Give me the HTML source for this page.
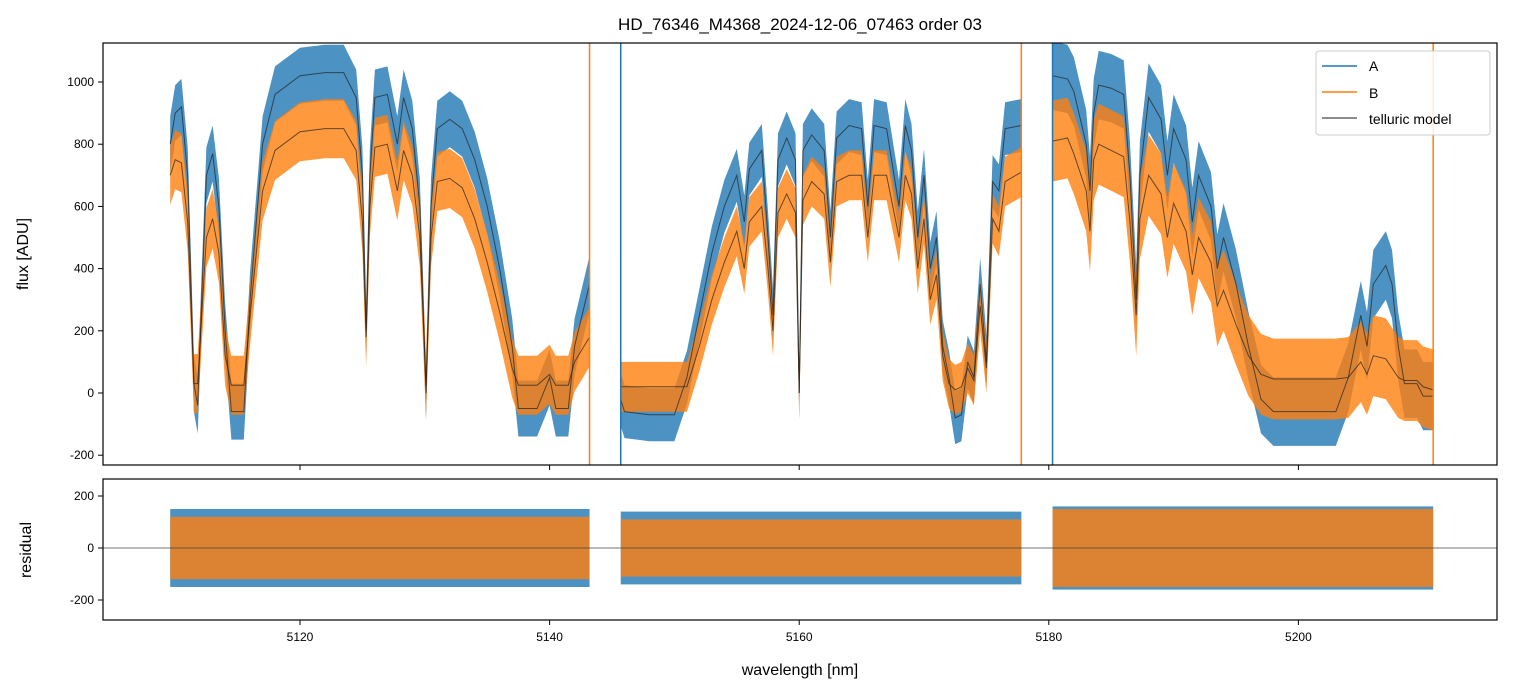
<!DOCTYPE html>
<html><head><meta charset="utf-8"><style>
body{margin:0;background:#fff;}
svg{display:block;font-family:"Liberation Sans","DejaVu Sans",sans-serif;}
</style></head><body>
<svg id="chart" width="1513" height="696" viewBox="0 0 1513 696">
<defs>
<clipPath id="cm"><rect x="103" y="43" width="1394" height="422"/></clipPath>
<clipPath id="cr"><rect x="103" y="479" width="1394" height="141"/></clipPath>
</defs>
<text x="800" y="30" text-anchor="middle" font-size="17">HD_76346_M4368_2024-12-06_07463  order 03</text>
<g id="main" clip-path="url(#cm)"></g>
<g id="resid" clip-path="url(#cr)"></g>
<g id="axes"></g>
<text x="800" y="675" text-anchor="middle" font-size="16">wavelength [nm]</text>
<text transform="translate(28,254) rotate(-90)" text-anchor="middle" font-size="16">flux [ADU]</text>
<text transform="translate(31,550) rotate(-90)" text-anchor="middle" font-size="16">residual</text>
<g>
<rect x="1316" y="51" width="174" height="84" rx="3" fill="#fff" fill-opacity="0.85" stroke="#ccc"/>
<line x1="1322" y1="66" x2="1357" y2="66" stroke="#1f77b4" stroke-width="1.5"/>
<text x="1369" y="71" font-size="14">A</text>
<line x1="1322" y1="92" x2="1357" y2="92" stroke="#ff7f0e" stroke-width="1.5"/>
<text x="1369" y="98" font-size="14">B</text>
<line x1="1322" y1="118" x2="1357" y2="118" stroke="#666" stroke-width="1.5"/>
<text x="1369" y="124" font-size="14">telluric model</text>
</g>
</svg>
<script>
const seg1W=[5109.6,5110,5110.5,5111,5111.5,5111.8,5112.5,5113,5113.5,5114,5114.5,5115.5,5116,5117,5118,5120,5122,5123.5,5124.5,5125,5125.3,5125.6,5126,5127,5127.8,5128.3,5129,5129.6,5130.1,5130.5,5131,5132,5133,5134,5135,5136,5137,5137.5,5139,5140,5140.5,5141.5,5142,5143.2];
const seg1A=[800,900,920,700,30,-40,700,770,600,200,-60,-60,300,800,960,1020,1030,1030,950,700,200,700,950,960,800,950,850,600,0,600,850,880,850,750,600,400,150,-50,-50,50,-50,-50,150,350];
const seg1B=[700,750,740,550,30,30,500,560,450,120,25,25,250,650,780,840,850,850,780,550,180,600,790,800,650,780,700,500,20,500,680,690,660,560,420,260,80,25,25,60,25,25,100,180];
const seg2W=[5145.7,5146,5148,5150,5151,5152,5153,5154,5155,5155.6,5156,5157,5157.5,5157.9,5158.3,5159,5159.7,5160,5160.3,5161,5162,5162.5,5163,5164,5165,5165.5,5166,5167,5168,5168.5,5169,5169.5,5170,5170.5,5171,5171.5,5172,5172.5,5173,5173.5,5174,5174.5,5175,5175.5,5176,5176.5,5177.8];
const seg2A=[-20,-60,-70,-70,50,250,450,600,700,550,720,780,500,250,750,820,750,0,780,830,780,500,820,860,850,600,860,850,600,860,780,500,700,400,500,150,50,-80,-70,100,50,350,100,680,650,850,860];
const seg2B=[20,20,20,20,20,150,300,420,520,400,550,600,400,200,580,640,580,0,620,680,640,420,680,700,700,500,700,700,500,700,640,400,560,300,380,120,30,10,20,80,40,280,80,560,520,680,710];
const seg3W=[5180.3,5181.5,5182,5183,5183.3,5183.6,5184,5185,5186,5186.5,5187,5187.3,5188,5189,5189.5,5190,5191,5191.5,5192,5193,5193.5,5194,5195,5196,5197,5198,5203,5204,5205,5205.5,5206,5207,5207.5,5208,5208.5,5209.5,5210,5210.8];
const seg3A=[1020,1010,970,800,650,900,990,980,960,700,300,700,950,880,700,850,750,550,700,600,400,500,350,150,-20,-60,-60,50,250,150,350,410,350,150,30,30,-10,-10];
const seg3B=[810,820,770,650,520,750,800,780,760,550,250,560,700,640,500,610,520,380,500,420,280,330,220,120,60,45,45,50,100,60,120,110,80,50,40,40,20,10];
const noiseA=[90,85,110];
const noiseB=[95,80,130];
const residA=[150,140,160];
const residB=[120,110,150];
const spikeW=[5143.2,5145.7,5177.8,5180.3,5210.8];

const xS=w=>300+(w-5120)*12.48;
const yM=v=>393-v*0.311;
const yR=v=>548-v*0.26;
const NS='http://www.w3.org/2000/svg';
function mk(tag,attrs,parent){const e=document.createElementNS(NS,tag);for(const k in attrs)e.setAttribute(k,attrs[k]);parent.appendChild(e);return e;}
const main=document.getElementById('main'),resid=document.getElementById('resid'),axes=document.getElementById('axes');
const segs=[[seg1W,seg1A,seg1B],[seg2W,seg2A,seg2B],[seg3W,seg3A,seg3B]];
function band(W,M,amp,yf){let up=W.map((w,i)=>xS(w).toFixed(1)+','+yf(M[i]+amp).toFixed(1));let lo=W.map((w,i)=>xS(w).toFixed(1)+','+yf(M[i]-amp).toFixed(1)).reverse();return up.concat(lo).join(' ');}
segs.forEach((s,i)=>{
 const [W,A,B]=s;
 const pa=mk('polygon',{points:band(W,A,noiseA[i],yM),fill:'#1f77b4','fill-opacity':0.8},main);
 
 
 const pb=mk('polygon',{points:band(W,B,noiseB[i],yM),fill:'#ff7f0e','fill-opacity':0.8},main);
 
 
 const la=mk('polyline',{points:W.map((w,j)=>xS(w)+','+yM(A[j])).join(' '),fill:'none',stroke:'#222','stroke-opacity':0.7,'stroke-width':1},main);
 
 
 const lb=mk('polyline',{points:W.map((w,j)=>xS(w)+','+yM(B[j])).join(' '),fill:'none',stroke:'#222','stroke-opacity':0.7,'stroke-width':1},main);
 
 
 const x0=xS(W[0]),x1=xS(W[W.length-1]);
 const ra=mk('rect',{x:x0,y:yR(residA[i]),width:x1-x0,height:yR(-residA[i])-yR(residA[i]),fill:'#1f77b4','fill-opacity':0.8},resid);
 
 
 const rb=mk('rect',{x:x0,y:yR(residB[i]),width:x1-x0,height:yR(-residB[i])-yR(residB[i]),fill:'#ff7f0e','fill-opacity':0.8},resid);
 
 
});
spikeW.forEach((w,i)=>{
 const l=mk('line',{x1:xS(w),x2:xS(w),y1:43,y2:465,stroke:i%2?'#1f77b4':'#ff7f0e','stroke-width':1.5},main);
 
 
});
const zl=mk('line',{x1:103,x2:1497,y1:yR(0),y2:yR(0),stroke:'#444','stroke-width':0.7},resid);


const f1=mk('rect',{x:103,y:43,width:1394,height:422,fill:'none',stroke:'#000','stroke-width':1.2},axes);


const f2=mk('rect',{x:103,y:479,width:1394,height:141,fill:'none',stroke:'#000','stroke-width':1.2},axes);


const xTicks=[5120,5140,5160,5180,5200];
const yTicks=[-200,0,200,400,600,800,1000];
const rTicks=[-200,0,200];
xTicks.forEach(t=>{
 mk('line',{x1:xS(t),x2:xS(t),y1:465,y2:470,stroke:'#000'},axes);
 mk('line',{x1:xS(t),x2:xS(t),y1:620,y2:625,stroke:'#000'},axes);
 const tx=mk('text',{x:xS(t),y:641,'text-anchor':'middle','font-size':12},axes);tx.textContent=t;
 
 
});
yTicks.forEach(t=>{
 mk('line',{x1:98,x2:103,y1:yM(t),y2:yM(t),stroke:'#000'},axes);
 const tx=mk('text',{x:94,y:yM(t)+4,'text-anchor':'end','font-size':12},axes);tx.textContent=t;
 
 
});
rTicks.forEach(t=>{
 mk('line',{x1:98,x2:103,y1:yR(t),y2:yR(t),stroke:'#000'},axes);
 const tx=mk('text',{x:94,y:yR(t)+4,'text-anchor':'end','font-size':12},axes);tx.textContent=t;
 
 
});
</script>
</body></html>
